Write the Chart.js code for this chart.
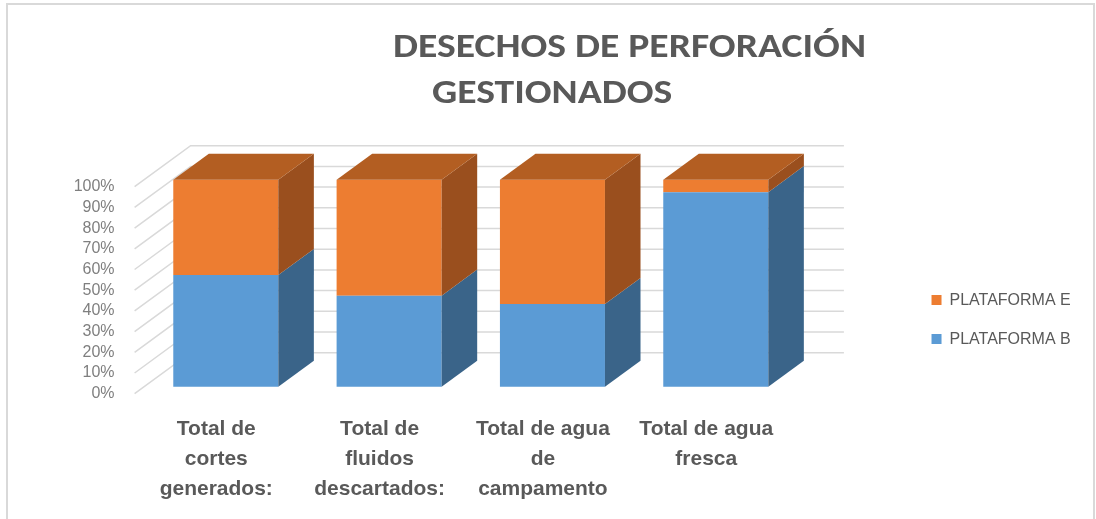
<!DOCTYPE html>
<html>
<head>
<meta charset="utf-8">
<script src="https://cdn.jsdelivr.net/npm/chart.js@4.4.1/dist/chart.umd.min.js"></script>
<style>
  html, body { margin: 0; padding: 0; background: #fff; }
</style>
</head>
<body>
<canvas id="desechos" width="1096" height="519"></canvas>
<script>
const categories = [
  ["Total de", "cortes", "generados:"],
  ["Total de", "fluidos", "descartados:"],
  ["Total de agua", "de", "campamento"],
  ["Total de agua", "fresca"],
];
const plataformaB = [54, 44, 40, 94];
const plataformaE = [46, 56, 60, 6];
const yTicks = [0, 10, 20, 30, 40, 50, 60, 70, 80, 90, 100];
const titleLines = ["DESECHOS DE PERFORACIÓN", "GESTIONADOS"];

const FONT = "'Liberation Sans', Arial, sans-serif";
const TITLE_FONT = "Carlito, Lato, 'Liberation Sans', sans-serif";
const GREY = "#595959";

// plot box (front plane of the walls)
const AREA = { left: 134.6, top: 186.7, right: 787.4, bottom: 393.7 };
// wall depth offset and the slice of it the bars occupy
const WALL = { dx: 56, dy: -41 };
const BAR_FRONT = 0.17, BAR_BACK = 0.805;

// legend sizing, so the key lands at x = 931
const LEG_FONT = 16, LEG_BOX = 10, LEG_PAD = 23, LEG_X = 931;
const mctx = document.createElement("canvas").getContext("2d");
mctx.font = LEG_FONT + "px " + FONT;
const legTextW = Math.max(mctx.measureText("PLATAFORMA E").width, mctx.measureText("PLATAFORMA B").width);
const legendW = LEG_PAD + LEG_BOX + LEG_FONT / 2 + legTextW + 10;
const spacerW = LEG_X - LEG_PAD - AREA.right;
const padRight = Math.max(0, 1096 - AREA.right - spacerW - legendW + 4.5);

const Y_AXIS_W = 62, X_AXIS_H = 109;

const frame = {
  id: "frame",
  beforeDraw(chart) {
    const ctx = chart.ctx;
    ctx.save();
    ctx.strokeStyle = "#d9d9d9";
    ctx.lineWidth = 2;
    ctx.strokeRect(7, 4, 1087, 540);
    ctx.restore();
  }
};

// back wall + side wall grid, then shift bars into the depth slice
const box3d = {
  id: "box3d",
  beforeDatasetsDraw(chart) {
    const ctx = chart.ctx, y = chart.scales.y, a = chart.chartArea;
    ctx.save();
    ctx.strokeStyle = "#d9d9d9";
    ctx.lineWidth = 1.5;
    yTicks.forEach(v => {
      const py = y.getPixelForValue(v);
      ctx.beginPath();
      ctx.moveTo(a.left, py);
      ctx.lineTo(a.left + WALL.dx, py + WALL.dy);
      ctx.lineTo(a.right + WALL.dx, py + WALL.dy);
      ctx.stroke();
    });
    ctx.restore();
    ctx.save();
    ctx.translate(WALL.dx * BAR_FRONT, WALL.dy * BAR_FRONT);
  },
  afterDatasetsDraw(chart) {
    const ctx = chart.ctx;
    const dx = WALL.dx * (BAR_BACK - BAR_FRONT), dy = WALL.dy * (BAR_BACK - BAR_FRONT);
    const last = chart.data.datasets.length - 1;
    chart.data.datasets.forEach((ds, i) => {
      chart.getDatasetMeta(i).data.forEach(el => {
        const p = el.getProps(["x", "y", "base", "width"], true);
        const xl = p.x - p.width / 2, xr = p.x + p.width / 2;
        const top = Math.min(p.y, p.base), bot = Math.max(p.y, p.base);
        ctx.fillStyle = ds.sideColor;
        ctx.beginPath();
        ctx.moveTo(xr, top);
        ctx.lineTo(xr + dx, top + dy);
        ctx.lineTo(xr + dx, bot + dy);
        ctx.lineTo(xr, bot);
        ctx.closePath();
        ctx.fill();
        if (i === last) {
          ctx.fillStyle = ds.topColor;
          ctx.beginPath();
          ctx.moveTo(xl, top);
          ctx.lineTo(xl + dx, top + dy);
          ctx.lineTo(xr + dx, top + dy);
          ctx.lineTo(xr, top);
          ctx.closePath();
          ctx.fill();
        }
      });
    });
    ctx.restore();
  }
};

const heading = {
  id: "heading",
  afterDraw(chart) {
    const ctx = chart.ctx;
    ctx.save();
    ctx.fillStyle = GREY;
    ctx.font = "bold 35px " + TITLE_FONT;
    ctx.textBaseline = "alphabetic";
    const sx = 473 / ctx.measureText(titleLines[0]).width;
    [[393, 57], [432, 103]].forEach(([x, b], i) => {
      ctx.save();
      ctx.translate(x, b);
      ctx.scale(sx, 1);
      ctx.fillText(titleLines[i], 0, 0);
      ctx.restore();
    });
    ctx.restore();
  }
};

new Chart(document.getElementById("desechos"), {
  type: "bar",
  data: {
    labels: categories,
    datasets: [
      {
        label: "PLATAFORMA B",
        data: plataformaB,
        backgroundColor: "#5b9bd5",
        sideColor: "#3a6489",
        topColor: "#3a6489",
      },
      {
        label: "PLATAFORMA E",
        data: plataformaE,
        backgroundColor: "#ed7d31",
        sideColor: "#9a4f1e",
        topColor: "#b35e22",
      },
    ],
  },
  options: {
    responsive: false,
    animation: false,
    devicePixelRatio: 1,
    clip: false,
    datasets: { bar: { categoryPercentage: 1, barPercentage: 0.643, borderWidth: 0 } },
    layout: {
      padding: {
        top: AREA.top,
        left: AREA.left - Y_AXIS_W,
        bottom: 519 - AREA.bottom - X_AXIS_H,
        right: padRight,
      },
    },
    scales: {
      x: {
        stacked: true,
        grid: { display: false, drawTicks: false },
        border: { display: false },
        ticks: {
          color: GREY,
          padding: 20,
          maxRotation: 0,
          autoSkip: false,
          font: { family: FONT, size: 21, weight: "bold", lineHeight: 1.43 },
        },
        afterFit(s) { s.height = X_AXIS_H; },
      },
      y: {
        stacked: true,
        min: 0,
        max: 100,
        grid: { display: false, drawTicks: false },
        border: { display: false },
        ticks: {
          stepSize: 10,
          autoSkip: false,
          padding: 20,
          color: "#7f7f7f",
          font: { family: FONT, size: 16 },
          callback: v => v + "%",
        },
        afterFit(s) { s.width = Y_AXIS_W; },
      },
      spacer: {
        type: "linear",
        position: "right",
        display: true,
        grid: { display: false, drawTicks: false },
        border: { display: false },
        ticks: { display: false },
        afterFit(s) { s.width = spacerW; },
      },
    },
    plugins: {
      title: { display: false },
      tooltip: { enabled: false },
      legend: {
        position: "right",
        align: "start",
        reverse: true,
        title: { display: true, text: " ", font: { size: 12, lineHeight: 1.2 }, padding: { top: 68, bottom: 0 } },
        labels: {
          color: GREY,
          boxWidth: LEG_BOX,
          boxHeight: LEG_BOX,
          padding: LEG_PAD,
          font: { family: FONT, size: LEG_FONT },
        },
      },
    },
  },
  plugins: [frame, box3d, heading],
});
</script>
</body>
</html>
